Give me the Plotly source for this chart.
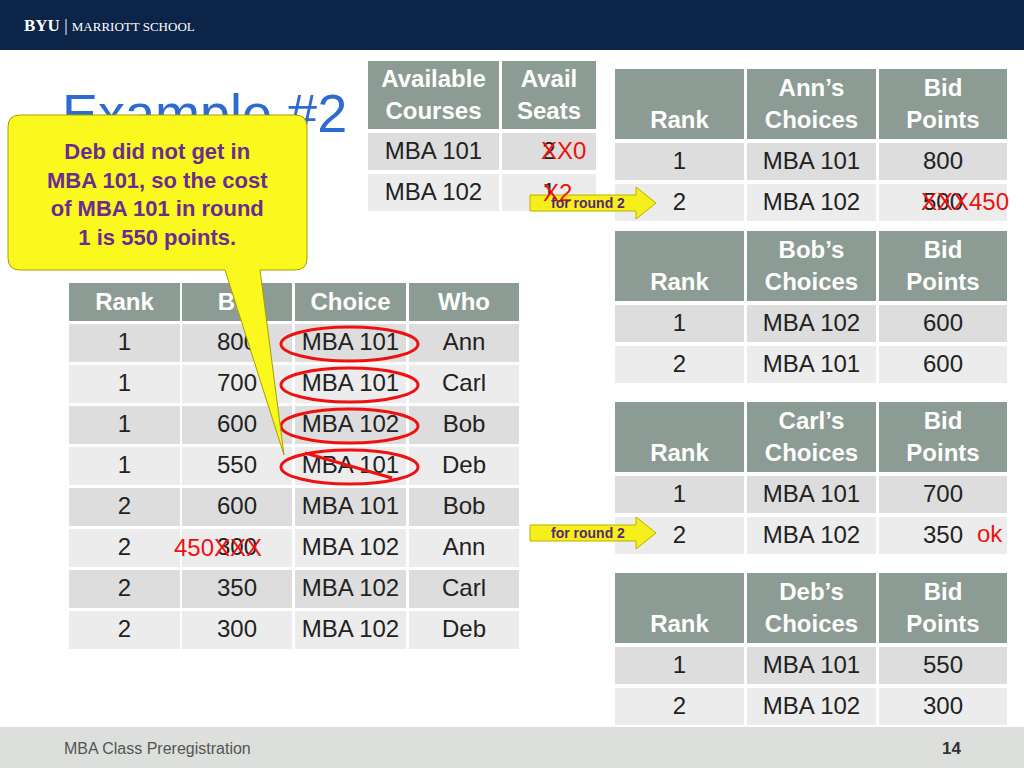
import plotly.graph_objects as go

# ---------------- data ----------------
main_header = ["Rank", "Bid", "Choice", "Who"]
main_rank = ["1", "1", "1", "1", "2", "2", "2", "2"]
main_bid = ["800", "700", "600", "550", "600", "300", "350", "300"]
main_choice = ["MBA 101", "MBA 101", "MBA 102", "MBA 101", "MBA 101", "MBA 102", "MBA 102", "MBA 102"]
main_who = ["Ann", "Carl", "Bob", "Deb", "Bob", "Ann", "Carl", "Deb"]

avail_header = ["Available<br>Courses", "Avail<br>Seats"]
avail_courses = ["MBA 101", "MBA 102"]
avail_seats = ["2", "1"]

students = ["Ann’s", "Bob’s", "Carl’s", "Deb’s"]
student_ranks = [["1", "2"], ["1", "2"], ["1", "2"], ["1", "2"]]
student_choices = [["MBA 101", "MBA 102"], ["MBA 102", "MBA 101"], ["MBA 101", "MBA 102"], ["MBA 101", "MBA 102"]]
student_bids = [["800", "500"], ["600", "600"], ["700", "350"], ["550", "300"]]

# ---------------- figure ----------------
FONT = "Liberation Sans, Arial, sans-serif"
HEAD = "#8c9b93"
ROW_A = "#dcdddc"
ROW_B = "#ececec"
DARK = "#222222"
RED = "#ee1111"

shapes, annos = [], []
tx, ty, tt, ts, tc = [], [], [], [], []

def rect(x0, y0, x1, y1, color, line=None, layer="above"):
    shapes.append(dict(type="rect", x0=x0, x1=x1, y0=y0, y1=y1, fillcolor=color,
                       line=dict(width=0) if line is None else line, layer=layer))

def ctext(x, y, t, size=24, color=DARK, bold=False):
    if bold:
        t = "<b>" + t + "</b>"
    tx.append(x); ty.append(y); tt.append(t); ts.append(size); tc.append(color)

def text(x, y, t, size=24, color=DARK, bold=False, xanchor="center", font=FONT):
    if bold:
        t = "<b>" + t + "</b>"
    annos.append(dict(x=x, y=y, text=t, showarrow=False, xanchor=xanchor, yanchor="middle",
                      font=dict(size=size, color=color, family=font)))

def table(cols, header_top, header_bot, row_tops, row_h, header, columns):
    for (c0, c1), h in zip(cols, header):
        rect(c0, header_top, c1, header_bot, HEAD, layer="below")
        ctext((c0 + c1) / 2, (header_top + header_bot) / 2 + 2, h, size=24, color="white", bold=True)
    for r, top in enumerate(row_tops):
        for (c0, c1), col in zip(cols, columns):
            rect(c0, top, c1, top + row_h, ROW_A if r % 2 == 0 else ROW_B, layer="below")
            ctext((c0 + c1) / 2, top + row_h / 2 + 1, col[r], size=24)

rect(0, 0, 1024, 50, "#0b2447", layer="below")
rect(0, 727, 1024, 768, "#dcdfdc", layer="below")
text(22, 25, "<b>BYU</b> | <span style='font-size:13px'>MARRIOTT SCHOOL</span>", size=17, color="white", xanchor="left", font="Liberation Serif, serif")
text(62, 748, "MBA Class Preregistration", size=16, color="#555555", xanchor="left")
text(951, 748, "14", size=17, color="#333333", bold=True)

main_cols = [(69, 180), (182, 292), (295, 406), (409, 519)]
table(main_cols, 283, 321, [324 + 41 * i for i in range(8)], 38, main_header,
      [main_rank, main_bid, main_choice, main_who])

table([(368, 499), (502, 596)], 61, 129, [133, 174], 37, avail_header,
      [avail_courses, [" ", " "]])
ctext(549, 153, avail_seats[0])
text(563, 150, "XX0", size=24, color=RED)
ctext(549, 194, avail_seats[1])
text(557, 192, "X2", size=24, color=RED)

stud_cols = [(615, 744), (747, 876), (879, 1007)]
tops = [69, 231, 402, 573]
for s, top in enumerate(tops):
    table(stud_cols, top, top + 70, [top + 74, top + 115], 37,
          ["<br>Rank", students[s] + "<br>Choices", "Bid<br>Points"],
          [student_ranks[s], student_choices[s], student_bids[s]])
text(965, 201, "XXX450", size=24, color=RED)
text(990, 533, "ok", size=24, color=RED)
text(218, 547, "450XXX", size=24, color=RED)

for i in range(4):
    cy = 344 + 41 * i
    shapes.append(dict(type="circle", x0=281, x1=418, y0=cy - 17, y1=cy + 17,
                       line=dict(color=RED, width=3)))
shapes.append(dict(type="line", x0=305, y0=453, x1=392, y1=478, line=dict(color=RED, width=3)))

for ay in (203, 533):
    shapes.append(dict(type="path",
                       path=f"M530,{ay-8} L636,{ay-8} L636,{ay-16} L656,{ay} L636,{ay+16} L636,{ay+8} L530,{ay+8} Z",
                       fillcolor="#f5f01a", line=dict(color="#b8b000", width=1)))
    text(588, ay, "for round 2", size=14, color="#5a2a70", bold=True)

shapes.append(dict(type="path",
                   path="M20,115 L295,115 Q307,115 307,127 L307,258 Q307,270 295,270 L260,270 L284,455 L225,270 "
                        "L20,270 Q8,270 8,258 L8,127 Q8,115 20,115 Z",
                   fillcolor="#fbf81e", line=dict(color="#a89f00", width=1)))
text(157, 194, "Deb did not get in<br>MBA 101, so the cost<br>of MBA 101 in round<br>1 is 550 points.",
     size=22, color="#6a2c91", bold=True)

fig = go.Figure()
fig.add_trace(go.Scatter(x=[62], y=[118], mode="text", text=["Example #2"], textposition="middle right",
                         textfont=dict(size=54, color="#2e6bd0", family=FONT), hoverinfo="skip"))
fig.add_trace(go.Scatter(x=tx, y=ty, mode="text", text=tt, textposition="middle center",
                         textfont=dict(size=ts, color=tc, family=FONT), hoverinfo="skip"))
fig.update_layout(width=1024, height=768, margin=dict(l=0, r=0, t=0, b=0),
                  paper_bgcolor="white", plot_bgcolor="white",
                  xaxis=dict(range=[0, 1024], visible=False, fixedrange=True),
                  yaxis=dict(range=[768, 0], visible=False, fixedrange=True),
                  shapes=shapes, annotations=annos, showlegend=False)
fig.write_html("out.html", config={"displayModeBar": False},
               post_script="document.body.style.margin='0';document.body.style.overflow='hidden';")
